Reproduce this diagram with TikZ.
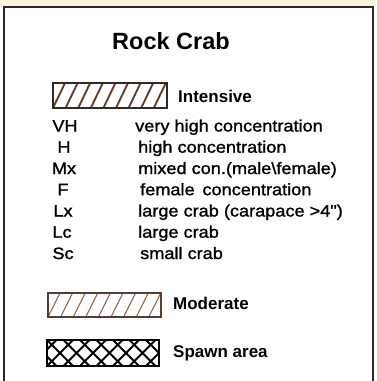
\documentclass[tikz,border=0pt]{standalone}
\usepackage{fontspec}
\setmainfont{Liberation Sans}
\newfontfamily\listfont[FakeStretch=1.1, FakeBold=1.3]{Liberation Sans}
\usepackage{xcolor}
\usetikzlibrary{positioning}
\definecolor{hatchbrown}{RGB}{105, 62, 38}
\definecolor{lighthatch}{RGB}{150, 90, 58}
\definecolor{framegray}{RGB}{40, 40, 40}
\definecolor{mapyellow}{RGB}{250, 244, 222}

\begin{document}
\begin{tikzpicture}[
      x=1pt, y=-1pt,
      frameline/.style={line width=2pt, draw=framegray},
      titletext/.style={font=\bfseries\fontsize{23.5}{28}\selectfont, anchor=base, inner sep=0pt},
      keytext/.style={font=\bfseries\fontsize{17}{20}\selectfont, anchor=base west, inner sep=0pt},
      abbr/.style={font=\listfont\fontsize{16.5}{20}\selectfont, anchor=base, inner sep=0pt},
      desc/.style={font=\listfont\fontsize{16.5}{20}\selectfont, anchor=base west, inner sep=0pt},
      hatchbox/.style={draw=#1, line width=1.2pt, inner sep=0pt,
                       minimum width=113pt, minimum height=25pt},
      intensivebox/.style={hatchbox=framegray!90!hatchbrown,
        path picture={\foreach \k in {-1,...,9}
          \draw[hatchbrown, line width=1.9pt]
            ([xshift=\k*12.6pt]path picture bounding box.south west) -- ++(12pt,25pt);}},
      moderatebox/.style={hatchbox=framegray!60!lighthatch,
        path picture={\foreach \k in {-1,...,9}
          \draw[lighthatch, line width=1pt]
            ([xshift=\k*12.6pt]path picture bounding box.south west) -- ++(12pt,24pt);}},
      spawnbox/.style={hatchbox=black,
        path picture={\foreach \k in {-2,...,7} {
          \draw[black, line width=1.9pt]
            ([xshift=\k*16.5pt]path picture bounding box.south west) -- ++(26pt,26pt);
          \draw[black, line width=1.9pt]
            ([xshift=\k*16.5pt]path picture bounding box.north west) -- ++(26pt,-26pt);}}}
    ]
    \useasboundingbox (0,0) rectangle (376,381);
    % map showing above the legend
    \fill[mapyellow] (0,0) rectangle (376,5.5);
    \draw[frameline] (3.5,381) -- (3.5,6.5) -- (372.5,6.5) -- (372.5,381);

    \node[titletext] (title) at (171,49) {Rock Crab};

    \node[intensivebox, minimum width=114pt] (intensive) at (110,95.5) {};
    \node[keytext] (intensivelbl) at (178,102) {Intensive};

    \node[abbr] (vh) at (65,131.5)  {VH};
    \node[abbr] (h)  at (64,152.7)  {H};
    \node[abbr] (mx) at (64,174)    {Mx};
    \node[abbr] (f)  at (63,195.2)  {F};
    \node[abbr] (lx) at (63,216.5)  {Lx};
    \node[abbr] (lc) at (62,237.7)  {Lc};
    \node[abbr] (sc) at (63,259)    {Sc};

    \node[desc] (vhtext) at (135,131.5) {very high concentration};
    \node[desc] (htext)  at (138,152.7) {high concentration};
    \node[desc] (mxtext) at (138,174)   {mixed con.(male\textbackslash female)};
    \node[desc] (ftext)  at (140,195.2) {female\, concentration};
    \node[desc] (lxtext) at (138,216.5) {large crab (carapace >4")};
    \node[desc] (lctext) at (138,237.7) {large crab};
    \node[desc] (sctext) at (140,259)   {small crab};

    \node[moderatebox, minimum height=24pt] (moderate) at (104.5,305) {};
    \node[keytext] (moderatelbl) at (173,309) {Moderate};

    \node[spawnbox, minimum width=112pt, minimum height=26pt] (spawn) at (103,353) {};
    \node[keytext] (spawnlbl) at (173,357) {Spawn area};
  \end{tikzpicture}
\end{document}
